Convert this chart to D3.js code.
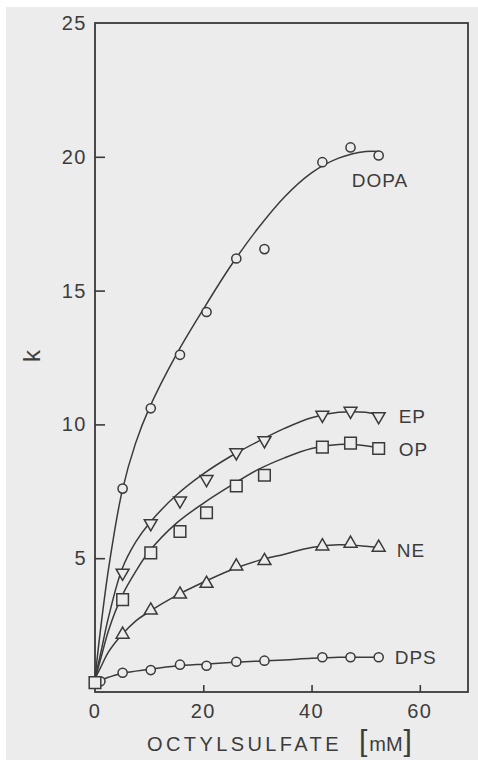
<!DOCTYPE html>
<html>
<head>
<meta charset="utf-8">
<script src="https://cdn.jsdelivr.net/npm/d3@7"></script>
<style>
  html, body { margin: 0; padding: 0; background: #fff; }
  svg { display: block; }
  text { font-family: "Liberation Sans", Arial, sans-serif; fill: #3c3c3c; }
</style>
</head>
<body>
<div id="chart"></div>
<script>

// measured points (octylsulfate mM -> k)
var octylsulfate = [5.1, 10.3, 15.7, 20.6, 26.1, 31.3, 42, 47.2, 52.4]
  , dpsConc     = [1, 5.1, 10.3, 15.7, 20.6, 26.1, 31.3, 42, 47.2, 52.4]
  , dopaK = [7.6, 10.6, 12.6, 14.2, 16.2, 16.55, 19.8, 20.35, 20.05]
  , epK   = [4.45, 6.3, 7.15, 7.95, 8.95, 9.4, 10.35, 10.5, 10.3]
  , opK   = [3.45, 5.2, 6.0, 6.7, 7.7, 8.1, 9.15, 9.3, 9.1]
  , neK   = [2.15, 3.05, 3.65, 4.05, 4.7, 4.9, 5.45, 5.55, 5.4]
  , dpsK  = [0.4, 0.72, 0.82, 1.02, 0.98, 1.13, 1.17, 1.3, 1.3, 1.3];

// hand drawn fit curves
var fitConc = [0, 1, 2.5, 5, 7.5, 10, 15, 20, 25, 30, 35, 40, 45, 50, 52.4]
  , dopaFit = [0.5, 2.3, 4.6, 7.5, 9.3, 10.6, 12.6, 14.3, 15.9, 17.3, 18.5, 19.4, 19.95, 20.2, 20.2]
  , epFit   = [0.5, 1.4, 2.8, 4.6, 5.6, 6.3, 7.35, 8.15, 8.8, 9.35, 9.85, 10.25, 10.45, 10.45, 10.35]
  , opFit   = [0.5, 1.2, 2.3, 3.6, 4.5, 5.25, 6.3, 7.05, 7.7, 8.3, 8.75, 9.1, 9.25, 9.2, 9.1]
  , neFit   = [0.5, 0.9, 1.5, 2.15, 2.65, 3.0, 3.6, 4.1, 4.55, 4.9, 5.15, 5.4, 5.5, 5.45, 5.4]
  , dpsFit  = [0.35, 0.45, 0.55, 0.7, 0.78, 0.85, 0.97, 1.04, 1.1, 1.15, 1.2, 1.26, 1.3, 1.3, 1.3];

var originK = 0.35;   // common starting value (square at the origin)

var xTicks = [0, 20, 40, 60]
  , yTicks = [5, 10, 15, 20, 25];

var series = [
    { name: "DPS",  x: dpsConc,      k: dpsK,  fit: dpsFit,  shape: "circle",   dx: 16, dy: 7 }
  , { name: "NE",   x: octylsulfate, k: neK,   fit: neFit,   shape: "triUp",    dx: 18, dy: 10 }
  , { name: "EP",   x: octylsulfate, k: epK,   fit: epFit,   shape: "triDown",  dx: 20, dy: 7 }
  , { name: "DOPA", x: octylsulfate, k: dopaK, fit: dopaFit, shape: "circle",   dx: -27, dy: 32 }
  , { name: "OP",   x: octylsulfate, k: opK,   fit: opFit,   shape: "square",   dx: 20, dy: 8 }
];

var W = 478, H = 760
  , bg = "#ececec"
  , ink = "#3a3a3a"
  , plotL = 95, plotR = 468, plotT = 23, plotB = 692;

var x = d3.scaleLinear().domain([0, 68.9]).range([plotL, plotR])
  , y = d3.scaleLinear().domain([0, 25]).range([plotB, plotT]);

var svg = d3.select("#chart").append("svg")
  .attr("width", W)
  .attr("height", H);

svg.append("rect")
  .attr("x", 6).attr("y", 7)
  .attr("width", W - 6).attr("height", H - 7)
  .attr("fill", bg);

// frame
svg.append("rect")
  .attr("x", plotL).attr("y", plotT)
  .attr("width", plotR - plotL).attr("height", plotB - plotT)
  .attr("fill", "none")
  .attr("stroke", ink)
  .attr("stroke-width", 1.8);

// y axis, ticks pointing inward
var yAxis = d3.axisRight(y).tickValues(yTicks.filter(function (d) { return d < 25; }))
  .tickSize(10).tickFormat("");
var gy = svg.append("g").attr("transform", "translate(" + plotL + ",0)").call(yAxis);
gy.select(".domain").remove();
gy.selectAll(".tick line").attr("stroke", ink).attr("stroke-width", 1.6);

svg.append("g").selectAll("text")
  .data(yTicks)
  .enter().append("text")
    .attr("x", plotL - 8)
    .attr("y", function (d) { return y(d) + 7; })
    .attr("text-anchor", "end")
    .style("font-size", "20px")
    .style("letter-spacing", "1.5px")
    .text(function (d) { return d; });

// x axis
var xAxis = d3.axisTop(x).tickValues(xTicks.filter(function (d) { return d > 0; }))
  .tickSize(7).tickFormat("");
var gx = svg.append("g").attr("transform", "translate(0," + plotB + ")").call(xAxis);
gx.select(".domain").remove();
gx.selectAll(".tick line").attr("stroke", ink).attr("stroke-width", 1.6);

svg.append("g").selectAll("text")
  .data(xTicks)
  .enter().append("text")
    .attr("x", function (d) { return x(d); })
    .attr("y", 718)
    .attr("text-anchor", "middle")
    .style("font-size", "20px")
    .style("letter-spacing", "1.5px")
    .text(function (d) { return d; });

// axis titles
var xt = svg.append("text")
  .attr("x", 147)
  .attr("y", 751)
  .style("font-size", "20px")
  .style("letter-spacing", "3.4px");
xt.append("tspan").text("OCTYLSULFATE ");
xt.append("tspan").style("font-size", "30px").style("letter-spacing", "0px").attr("dx", 8).text("[");
xt.append("tspan").style("letter-spacing", "0px").attr("dx", 2).text("mM");
xt.append("tspan").style("font-size", "30px").style("letter-spacing", "0px").attr("dx", 1).text("]");

svg.append("text")
  .attr("transform", "translate(40,356) rotate(-90)")
  .attr("text-anchor", "middle")
  .style("font-size", "24px")
  .text("k");

// curves
var line = d3.line()
  .x(function (d) { return x(d[0]); })
  .y(function (d) { return y(d[1]); })
  .curve(d3.curveCatmullRom.alpha(0.5));

svg.append("g").selectAll("path")
  .data(series)
  .enter().append("path")
    .attr("d", function (s) { return line(d3.zip(fitConc, s.fit)); })
    .attr("fill", "none")
    .attr("stroke", ink)
    .attr("stroke-width", 1.5);

// markers
var shapes = {
    circle:  d3.symbol().type(d3.symbolCircle).size(66)
  , square:  d3.symbol().type(d3.symbolSquare).size(135)
  , triUp:   d3.symbol().type(d3.symbolTriangle).size(72)
  , triDown: d3.symbol().type(d3.symbolTriangle).size(72)
};

series.forEach(function (s) {
  var pts = d3.zip(s.x, s.k);
  if (s.name === "OP") pts.unshift([0, originK]);
  svg.append("g").selectAll("path")
    .data(pts)
    .enter().append("path")
      .attr("d", shapes[s.shape])
      .attr("transform", function (d) {
        return "translate(" + x(d[0]) + "," + y(d[1]) + ")" + (s.shape === "triDown" ? " rotate(180)" : "");
      })
      .attr("fill", bg)
      .attr("stroke", ink)
      .attr("stroke-width", 1.5);

  var last = pts[pts.length - 1];
  svg.append("text")
    .attr("x", x(last[0]) + s.dx)
    .attr("y", y(last[1]) + s.dy)
    .style("font-size", "19px")
    .style("letter-spacing", "1px")
    .text(s.name);
});

</script>
</body>
</html>
